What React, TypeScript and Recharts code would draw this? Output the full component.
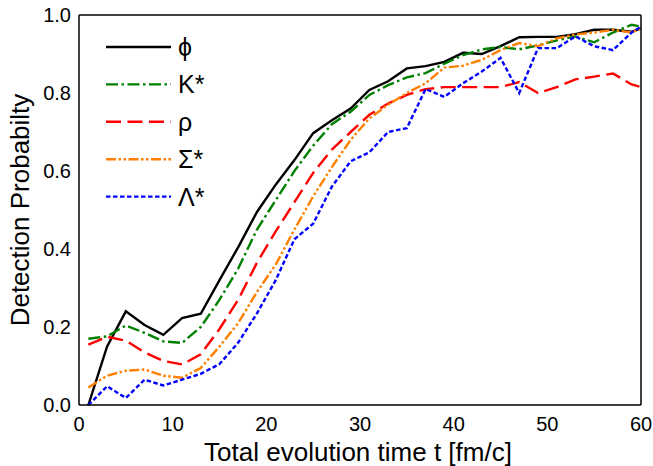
import { LineChart, Line, XAxis, YAxis, Legend } from "recharts";

const FONT = '"Liberation Sans", Arial, sans-serif';

// time axis (fm/c)
const times = [1, 3, 5, 7, 9, 11, 13, 15, 17, 19, 21, 23, 25, 27, 29, 31, 33, 35, 37, 39, 41, 43, 45, 47, 49, 51, 53, 55, 57, 59, 60];

const phi = [0, 0.15, 0.24, 0.205, 0.18, 0.223, 0.234, 0.32, 0.405, 0.495, 0.565, 0.628, 0.697, 0.73, 0.76, 0.808, 0.83, 0.863, 0.869, 0.88, 0.903, 0.9, 0.92, 0.943, 0.944, 0.944, 0.951, 0.962, 0.962, 0.957, 0.966];
const kstar = [0.17, 0.176, 0.204, 0.185, 0.163, 0.159, 0.2, 0.27, 0.35, 0.45, 0.525, 0.6, 0.665, 0.72, 0.752, 0.795, 0.82, 0.84, 0.851, 0.875, 0.897, 0.912, 0.918, 0.912, 0.922, 0.935, 0.945, 0.93, 0.955, 0.975, 0.97];
const rho = [0.155, 0.175, 0.165, 0.135, 0.113, 0.104, 0.13, 0.195, 0.27, 0.365, 0.445, 0.52, 0.595, 0.655, 0.7, 0.744, 0.773, 0.795, 0.81, 0.815, 0.815, 0.815, 0.815, 0.828, 0.8, 0.815, 0.835, 0.842, 0.85, 0.822, 0.815];
const sigma = [0.045, 0.075, 0.088, 0.091, 0.075, 0.07, 0.095, 0.15, 0.21, 0.29, 0.36, 0.45, 0.535, 0.61, 0.68, 0.735, 0.77, 0.8, 0.825, 0.865, 0.87, 0.885, 0.91, 0.928, 0.92, 0.94, 0.95, 0.955, 0.962, 0.955, 0.965];
const lambda = [0, 0.048, 0.018, 0.065, 0.05, 0.065, 0.08, 0.105, 0.16, 0.235, 0.32, 0.425, 0.465, 0.56, 0.625, 0.648, 0.7, 0.71, 0.81, 0.79, 0.825, 0.855, 0.89, 0.8, 0.915, 0.915, 0.945, 0.92, 0.91, 0.955, 0.97];

const xMajor = [0, 10, 20, 30, 40, 50, 60];
const xMinor = [5, 15, 25, 35, 45, 55];
const yMajor = [0, 0.2, 0.4, 0.6, 0.8, 1.0];
const yMinor = [0.1, 0.3, 0.5, 0.7, 0.9];

const SERIES = [
  { key: "phi", label: "ϕ", color: "#000000", dash: undefined },
  { key: "kstar", label: "K*", color: "#008000", dash: "12 3.5 2.5 3.5" },
  { key: "rho", label: "ρ", color: "#ff0000", dash: "15 6.5" },
  { key: "sigma", label: "Σ*", color: "#ff8000", dash: "10 2.5 2.5 2.5 2.5 2.5" },
  { key: "lambda", label: "Λ*", color: "#0000ff", dash: "4.5 2.5" },
];

const data = times.map((t, i) => ({
  t,
  phi: phi[i],
  kstar: kstar[i],
  rho: rho[i],
  sigma: sigma[i],
  lambda: lambda[i],
}));

const FRAME = { stroke: "#000", strokeWidth: 1.5 };
const TICK_LINE = { stroke: "#000", strokeWidth: 1.5 };

const BottomLabel = (props: any) => {
  const { x, y, payload } = props;
  return (
    <text x={x} y={y + 26} textAnchor="middle" fontSize={20} fontFamily={FONT} fill="#000">
      {payload.value}
    </text>
  );
};

const LeftLabel = (props: any) => {
  const { x, y, payload } = props;
  return (
    <text x={x - 8} y={y + 7} textAnchor="end" fontSize={20} fontFamily={FONT} fill="#000">
      {payload.value.toFixed(1)}
    </text>
  );
};

function LegendBox() {
  return (
    <svg width={110} height={190} style={{ overflow: "visible" }}>
      {SERIES.map((s, i) => {
        const y = 17 + i * 37.4;
        return (
          <g key={s.key}>
            <line x1={6} x2={71} y1={y} y2={y} stroke={s.color} strokeWidth={2.4} strokeDasharray={s.dash} />
            <text x={78} y={y + 9} fontSize={25} fontFamily={FONT} fill="#000">
              {s.label}
            </text>
          </g>
        );
      })}
    </svg>
  );
}

// inward tick marks: mirrored axes that only draw tick lines
const tickX = (id: string, orientation: "top" | "bottom", ticks: number[], size: number, line: boolean) => (
  <XAxis
    key={id}
    xAxisId={id}
    orientation={orientation}
    mirror
    type="number"
    domain={[0, 60]}
    allowDataOverflow
    ticks={ticks}
    interval={0}
    height={20}
    tick={false}
    tickSize={size}
    tickLine={TICK_LINE}
    axisLine={line ? FRAME : false}
  />
);

const tickY = (id: string, orientation: "left" | "right", ticks: number[], size: number, line: boolean) => (
  <YAxis
    key={id}
    yAxisId={id}
    orientation={orientation}
    mirror
    type="number"
    domain={[0, 1]}
    allowDataOverflow
    ticks={ticks}
    interval={0}
    width={20}
    tick={false}
    tickSize={size}
    tickLine={TICK_LINE}
    axisLine={line ? FRAME : false}
  />
);

export default function App() {
  return (
    <div style={{ position: "absolute", left: 0, top: 0, background: "#fff" }}>
      <LineChart width={653} height={466} data={data} margin={{ top: 15, right: 12, bottom: 0, left: 0 }}>
        <XAxis
          dataKey="t"
          type="number"
          domain={[0, 60]}
          ticks={xMajor}
          interval={0}
          height={61}
          tickSize={0}
          tickMargin={0}
          tickLine={false}
          tick={BottomLabel}
          axisLine={FRAME}
          label={{
            content: (p: any) => {
              const vb = p.viewBox;
              return (
                <text x={vb.x + vb.width / 2 - 2} y={vb.y + 56} textAnchor="middle" fontSize={26} fontFamily={FONT} fill="#000">
                  Total evolution time t [fm/c]
                </text>
              );
            },
          }}
        />
        <YAxis
          type="number"
          domain={[0, 1]}
          ticks={yMajor}
          interval={0}
          width={79}
          tickSize={0}
          tickMargin={0}
          tickLine={false}
          tick={LeftLabel}
          axisLine={FRAME}
          label={{
            content: (p: any) => {
              const vb = p.viewBox;
              const cy = vb.y + vb.height / 2;
              return (
                <text x={29} y={cy} transform={`rotate(-90 29 ${cy})`} textAnchor="middle" fontSize={26} fontFamily={FONT} fill="#000">
                  Detection Probabilty
                </text>
              );
            },
          }}
        />
        {tickX("bMajor", "bottom", xMajor, 9, false)}
        {tickX("bMinor", "bottom", xMinor, 5, false)}
        {tickX("tMajor", "top", xMajor, 9, true)}
        {tickX("tMinor", "top", xMinor, 5, false)}
        {tickY("lMajor", "left", yMajor, 9, false)}
        {tickY("lMinor", "left", yMinor, 5, false)}
        {tickY("rMajor", "right", yMajor, 9, true)}
        {tickY("rMinor", "right", yMinor, 5, false)}
        <Legend
          layout="vertical"
          align="center"
          verticalAlign="middle"
          wrapperStyle={{ left: 100, top: 30, width: 110, height: 190 }}
          content={() => <LegendBox />}
        />
        {SERIES.map((s) => (
          <Line
            key={s.key}
            type="linear"
            dataKey={s.key}
            stroke={s.color}
            strokeWidth={2.4}
            strokeDasharray={s.dash}
            dot={false}
            activeDot={false}
            isAnimationActive={false}
          />
        ))}
      </LineChart>
    </div>
  );
}
